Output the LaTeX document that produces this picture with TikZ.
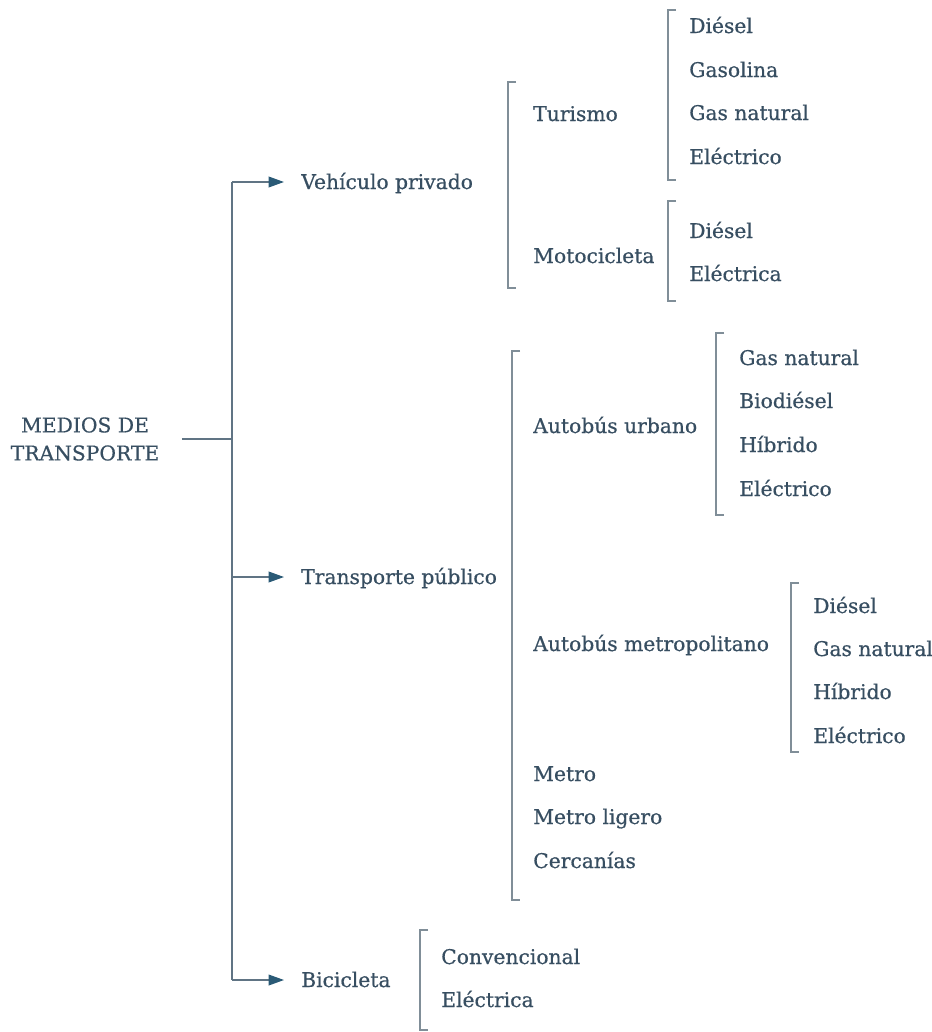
\documentclass[tikz,border=0pt]{standalone}
\usepackage{fontspec}
\setmainfont{DejaVu Serif}
\newfontfamily\itemfont{DejaVu Serif}[FakeBold=0.6]
\usetikzlibrary{arrows.meta}
\definecolor{txtcol}{RGB}{55,78,97}
\definecolor{linecol}{RGB}{96,116,132}
\definecolor{arrowcol}{RGB}{42,90,118}
\definecolor{brackcol}{RGB}{128,142,152}
\begin{document}
\begin{tikzpicture}[x=0.75pt,y=0.75pt,yscale=-1,xscale=1,
  item/.style={anchor=base west,inner sep=0.75pt,text=txtcol,font=\itemfont\fontsize{15.2}{18}\selectfont},
  brack/.style={draw=brackcol,line width=0.9pt},
  trunk/.style={draw=linecol,line width=1.1pt},
  arr/.style={trunk,-{Triangle[length=11.5pt,width=8pt,color=arrowcol]},shorten >=12pt}]
\useasboundingbox (0,0) rectangle (932,1032);

%Trunk coordinates
\coordinate (t1) at (232,182);
\coordinate (t2) at (232,577);
\coordinate (t3) at (232,980);

% Text Node
\node (med) [anchor=center,inner sep=0.75pt,text=txtcol,align=center,font=\itemfont\fontsize{15.2}{21}\selectfont] at (85,439) {MEDIOS DE\\TRANSPORTE};
% Text Node
\node (veh) [item] at (300,189) {Vehículo privado};
\node (pub) [item] at (300,584) {Transporte público};
\node (bic) [item] at (300,987) {Bicicleta};

%Straight Lines
\draw [trunk,shorten <=16pt] (med.east) -- (med.east -| t1);
\draw [trunk] (t1) -- (t3);
\draw [arr] (t1) -- (t1 -| veh.west);
\draw [arr] (t2) -- (t2 -| pub.west);
\draw [arr] (t3) -- (t3 -| bic.west);

%Brackets
\coordinate (b1t) at (508,82);   \coordinate (b1b) at (508,288);
\coordinate (b2t) at (668,10);   \coordinate (b2b) at (668,180);
\coordinate (b3t) at (668,201);  \coordinate (b3b) at (668,301);
\coordinate (b4t) at (512,351);  \coordinate (b4b) at (512,900);
\coordinate (b5t) at (716,333);  \coordinate (b5b) at (716,515);
\coordinate (b6t) at (791,583);  \coordinate (b6b) at (791,752);
\coordinate (b7t) at (420,930);  \coordinate (b7b) at (420,1030);
\draw [brack] ([xshift=6pt]b1t) -- (b1t) -- (b1b) -- ([xshift=6pt]b1b);
\draw [brack] ([xshift=6pt]b2t) -- (b2t) -- (b2b) -- ([xshift=6pt]b2b);
\draw [brack] ([xshift=6pt]b3t) -- (b3t) -- (b3b) -- ([xshift=6pt]b3b);
\draw [brack] ([xshift=6pt]b4t) -- (b4t) -- (b4b) -- ([xshift=6pt]b4b);
\draw [brack] ([xshift=6pt]b5t) -- (b5t) -- (b5b) -- ([xshift=6pt]b5b);
\draw [brack] ([xshift=6pt]b6t) -- (b6t) -- (b6b) -- ([xshift=6pt]b6b);
\draw [brack] ([xshift=6pt]b7t) -- (b7t) -- (b7b) -- ([xshift=6pt]b7b);

% Vehiculo privado
\node (tur) [item] at (532,121) {Turismo};
\node (mot) [item] at (532,263) {Motocicleta};
\node (tur1) [item] at (688,33) {Diésel};
\node (tur2) [item] at (688,77) {Gasolina};
\node (tur3) [item] at (688,120) {Gas natural};
\node (tur4) [item] at (688,164) {Eléctrico};
\node (mot1) [item] at (688,238) {Diésel};
\node (mot2) [item] at (688,281) {Eléctrica};

% Transporte publico
\node (urb) [item] at (532,433) {Autobús urbano};
\node (met) [item] at (532,651) {Autobús metropolitano};
\node (mtr) [item] at (532,781) {Metro};
\node (lig) [item] at (532,824) {Metro ligero};
\node (cer) [item] at (532,868) {Cercanías};
\node (urb1) [item] at (738,365) {Gas natural};
\node (urb2) [item] at (738,408) {Biodiésel};
\node (urb3) [item] at (738,452) {Híbrido};
\node (urb4) [item] at (738,496) {Eléctrico};
\node (met1) [item] at (812,613) {Diésel};
\node (met2) [item] at (812,656) {Gas natural};
\node (met3) [item] at (812,699) {Híbrido};
\node (met4) [item] at (812,743) {Eléctrico};

% Bicicleta
\node (bic1) [item] at (440,964) {Convencional};
\node (bic2) [item] at (440,1007) {Eléctrica};

\end{tikzpicture}
\end{document}
